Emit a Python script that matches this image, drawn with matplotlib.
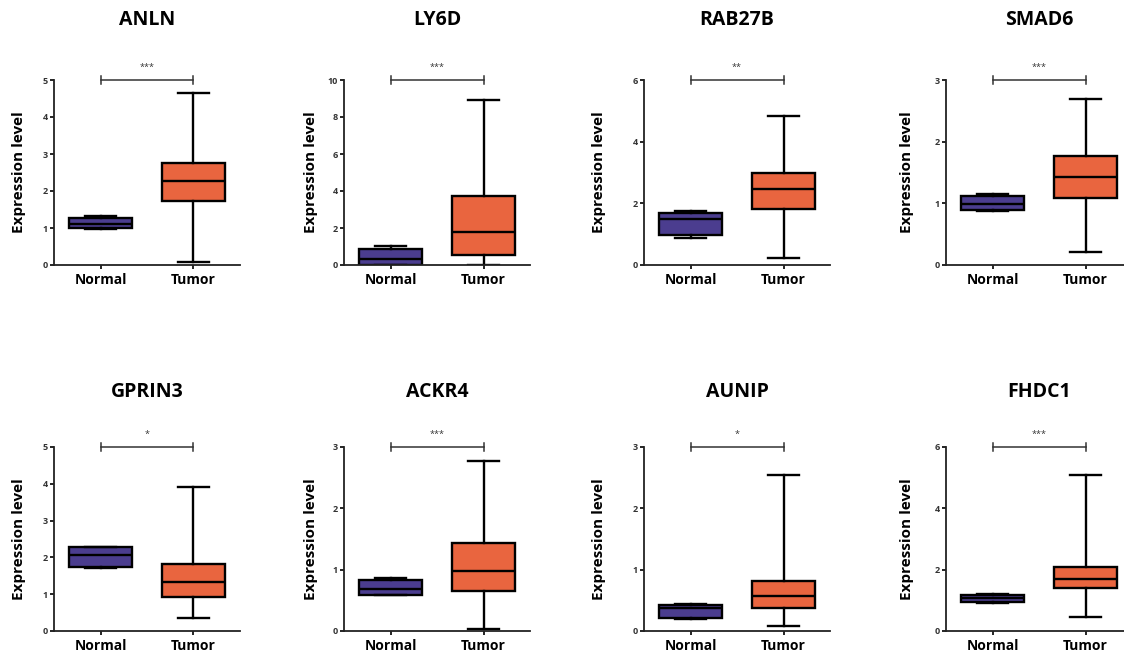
import matplotlib
matplotlib.use("Agg")
import matplotlib.pyplot as plt

plt.rcParams['font.family'] = ['Open Sans', 'DejaVu Sans']

genes = ["ANLN", "LY6D", "RAB27B", "SMAD6", "GPRIN3", "ACKR4", "AUNIP", "FHDC1"]
groups = ["Normal", "Tumor"]
# [whislo, q1, median, q3, whishi]
normal_stats = [
    [0.98, 1.01, 1.11, 1.26, 1.32],
    [0.00, 0.02, 0.32, 0.88, 1.01],
    [0.88, 0.98, 1.48, 1.70, 1.74],
    [0.875, 0.89, 0.99, 1.12, 1.15],
    [1.72, 1.75, 2.06, 2.27, 2.28],
    [0.58, 0.59, 0.69, 0.83, 0.86],
    [0.19, 0.22, 0.37, 0.43, 0.44],
    [0.90, 0.93, 1.07, 1.17, 1.21],
]
tumor_stats = [
    [0.08, 1.74, 2.26, 2.75, 4.65],
    [0.02, 0.52, 1.79, 3.74, 8.90],
    [0.24, 1.81, 2.45, 2.97, 4.83],
    [0.21, 1.08, 1.43, 1.77, 2.70],
    [0.36, 0.93, 1.32, 1.82, 3.91],
    [0.04, 0.65, 0.98, 1.44, 2.77],
    [0.08, 0.38, 0.57, 0.81, 2.54],
    [0.455, 1.40, 1.71, 2.08, 5.08],
]
y_max = [5, 10, 6, 3, 5, 3, 3, 6]
y_step = [1, 2, 2, 1, 1, 1, 1, 2]
signif = ["***", "***", "**", "***", "*", "***", "*", "***"]

colors = ["#4b3d8f", "#e9653f"]

W, H = 1124, 654
fig = plt.figure(figsize=(W / 100, H / 100), dpi=100)

lefts = [54, 344, 644, 946]
rows = [(80, 265), (447, 631)]
title_y = [20, 392]
label_off = [-36, -34, -45, -40]
aw = 186

for i, g in enumerate(genes):
    r, c = divmod(i, 4)
    top, bot = rows[r]
    ax = fig.add_axes([lefts[c] / W, (H - bot) / H, aw / W, (bot - top) / H])
    stats = []
    for lab, s in zip(groups, [normal_stats[i], tumor_stats[i]]):
        stats.append(dict(label=lab, whislo=s[0], q1=s[1], med=s[2], q3=s[3], whishi=s[4], fliers=[]))
    bp = ax.bxp(stats, positions=[1, 2], widths=0.67, patch_artist=True, showfliers=False,
                boxprops=dict(linewidth=1.7, edgecolor="black"),
                medianprops=dict(color="black", linewidth=1.7),
                whiskerprops=dict(color="black", linewidth=1.7),
                capprops=dict(color="black", linewidth=1.7),
                capwidths=0.34)
    for patch, col in zip(bp['boxes'], colors):
        patch.set_facecolor(col)
    ax.set_xlim(0.5, 2.5)
    ax.set_ylim(0, y_max[i])
    ax.set_yticks(range(0, y_max[i] + 1, y_step[i]))
    for sp in ["top", "right"]:
        ax.spines[sp].set_visible(False)
    for sp in ["left", "bottom"]:
        ax.spines[sp].set_linewidth(1.3)
        ax.spines[sp].set_color("#222222")
    ax.tick_params(axis="y", labelsize=6.5, width=1.2, length=3, pad=1.5)
    ax.tick_params(axis="x", labelsize=10, width=1.2, length=3, pad=3)
    for t in ax.get_yticklabels():
        t.set_fontweight("bold")
        t.set_color("#333333")
    for t in ax.get_xticklabels():
        t.set_fontweight("bold")
    ax.set_ylabel("Expression level", fontsize=11, fontweight="bold")
    ax.yaxis.set_label_coords((label_off[c] + 7.5) / aw, 0.5)
    cx = (lefts[c] + aw / 2) / W
    fig.text(cx, (H - title_y[r]) / H, g, ha="center", va="center", fontsize=14, fontweight="bold")
    # significance bracket (H-shaped ends)
    yb = y_max[i]
    tick_h = y_max[i] * 0.022
    ax.plot([1, 2], [yb, yb], color="#333333", lw=1.1, clip_on=False)
    for xp in (1, 2):
        ax.plot([xp, xp], [yb - tick_h, yb + tick_h], color="#333333", lw=1.1, clip_on=False)
    ax.text(1.5, yb + y_max[i] * 0.045, signif[i], ha="center", va="bottom", fontsize=6.5, color="#333333")

fig.savefig("out.png", dpi=100)
